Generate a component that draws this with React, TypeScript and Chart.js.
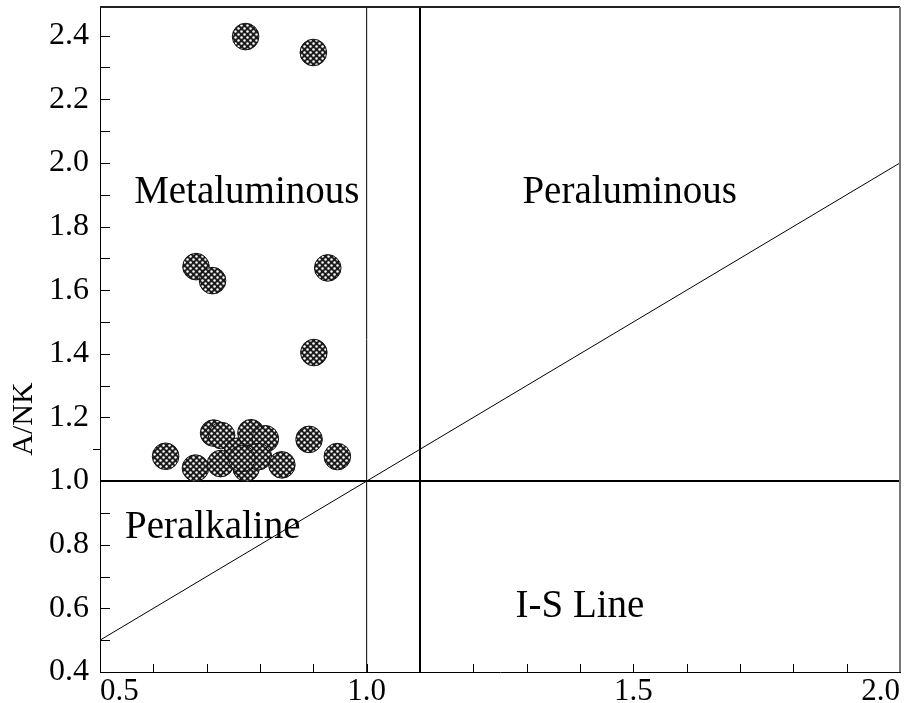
import { useEffect, useRef } from 'react';
import { Chart, registerables } from 'chart.js';

Chart.register(...registerables);

// Sample points (A/CNK, A/NK)
const sampleX = [0.773, 0.900, 0.680, 0.711, 0.927, 0.901, 0.623, 0.679, 0.713, 0.728, 0.726, 0.758, 0.774, 0.783, 0.810, 0.797, 0.841, 0.892, 0.945, 0.766];
const sampleY = [2.397, 2.347, 1.674, 1.630, 1.670, 1.404, 1.078, 1.041, 1.151, 1.143, 1.055, 1.094, 1.041, 1.152, 1.133, 1.077, 1.051, 1.131, 1.077, 1.071];

// Field boundary lines
const diagX = [0.5, 2.0];
const diagY = [0.5, 2.0];
const hLineX = [0.5, 2.0];
const hLineY = [1.0, 1.0];
const v1X = [1.0, 1.0];
const v1Y = [0.4, 2.49];
const v2X = [1.1, 1.1];
const v2Y = [0.4, 2.49];

// Axes
const xMin = 0.5;
const xMax = 2.0;
const yMin = 0.4;
const yMax = 2.49;
const xTickLabels = ['0.5', '1.0', '1.5', '2.0'];
const yTickLabels = ['0.4', '0.6', '0.8', '1.0', '1.2', '1.4', '1.6', '1.8', '2.0', '2.2', '2.4'];
const yTitle = 'A/NK';

// Field names and their anchor positions (data units, left/baseline)
const fieldLabels = ['Metaluminous', 'Peraluminous', 'Peralkaline', 'I-S Line'];
const fieldLabelX = [0.564, 1.292, 0.547, 1.279];
const fieldLabelY = [1.875, 1.875, 0.82, 0.572];

const SERIF = '"Liberation Serif", "Times New Roman", serif';

function toPts(xs: number[], ys: number[]) {
  return xs.map((x, i) => ({ x, y: ys[i] }));
}

function makePattern(): CanvasPattern | string {
  const c = document.createElement('canvas');
  c.width = 6;
  c.height = 6;
  const g = c.getContext('2d');
  if (!g) return '#555';
  g.fillStyle = '#1c1c1c';
  g.fillRect(0, 0, 6, 6);
  g.fillStyle = '#ffffff';
  const dots = [[1.5, 1.5], [4.5, 4.5]];
  dots.forEach(([x, y]) => {
    g.beginPath();
    g.arc(x, y, 1.25, 0, Math.PI * 2);
    g.fill();
  });
  const p = g.createPattern(c, 'repeat');
  return p || '#555';
}

const zeroPad = (s: any) => {
  s.paddingTop = 0;
  s.paddingBottom = 0;
  s.paddingLeft = 0;
  s.paddingRight = 0;
};

const decorPlugin = {
  id: 'decor',
  afterDatasetsDraw(chart: any) {
    const ctx = chart.ctx;
    const xs = chart.scales.x;
    const ys = chart.scales.y;
    ctx.save();
    ctx.fillStyle = '#000';
    ctx.font = `39px ${SERIF}`;
    ctx.textAlign = 'left';
    ctx.textBaseline = 'alphabetic';
    fieldLabels.forEach((t, i) => {
      ctx.fillText(t, xs.getPixelForValue(fieldLabelX[i]), ys.getPixelForValue(fieldLabelY[i]));
    });
    ctx.restore();
  },
  afterDraw(chart: any) {
    const ctx = chart.ctx;
    const xs = chart.scales.x;
    const ys = chart.scales.y;
    const a = chart.chartArea;
    ctx.save();
    // inward tick marks
    ctx.strokeStyle = '#000';
    ctx.lineWidth = 1;
    ctx.beginPath();
    for (let i = 6; i <= 19; i++) {
      const px = Math.round(xs.getPixelForValue(i / 10)) + 0.5;
      ctx.moveTo(px, a.bottom);
      ctx.lineTo(px, a.bottom - 8);
    }
    for (let i = 5; i <= 24; i++) {
      const py = Math.round(ys.getPixelForValue(i / 10)) + 0.5;
      if (i === 11) {
        ctx.moveTo(a.left - 7, py);
        ctx.lineTo(a.left, py);
      } else {
        ctx.moveTo(a.left, py);
        ctx.lineTo(a.left + 10, py);
      }
    }
    ctx.stroke();
    // top and right frame
    ctx.strokeStyle = '#222';
    ctx.lineWidth = 2;
    ctx.beginPath();
    ctx.moveTo(a.left, a.top);
    ctx.lineTo(a.right, a.top);
    ctx.stroke();
    ctx.strokeStyle = '#777';
    ctx.beginPath();
    ctx.moveTo(a.right, a.top);
    ctx.lineTo(a.right, a.bottom);
    ctx.stroke();
    // y axis title
    ctx.fillStyle = '#000';
    ctx.font = `30px ${SERIF}`;
    ctx.textAlign = 'center';
    ctx.textBaseline = 'middle';
    ctx.translate(24, 419);
    ctx.rotate(-Math.PI / 2);
    ctx.fillText(yTitle, 0, 0);
    ctx.restore();
  },
};

export default function App() {
  const ref = useRef<HTMLCanvasElement>(null);
  useEffect(() => {
    if (!ref.current) return;
    const pattern = makePattern();
    const lineDs = (xs: number[], ys: number[], w: number) => ({
      data: toPts(xs, ys),
      showLine: true,
      borderColor: '#000',
      borderWidth: w,
      pointRadius: 0,
      fill: false,
    });
    const chart = new Chart(ref.current, {
      type: 'scatter',
      data: {
        datasets: [
          {
            data: toPts(sampleX, sampleY),
            pointRadius: 13.3,
            pointBackgroundColor: pattern as any,
            pointBorderColor: '#111',
            pointBorderWidth: 1,
            pointHoverRadius: 13.3,
          },
          lineDs(diagX, diagY, 1),
          lineDs(hLineX, hLineY, 2),
          lineDs(v1X, v1Y, 1),
          lineDs(v2X, v2Y, 2),
        ],
      },
      options: {
        animation: false,
        responsive: false,
        maintainAspectRatio: false,
        layout: { autoPadding: false, padding: { left: 0, top: 7, right: 11, bottom: 0 } },
        plugins: { legend: { display: false }, tooltip: { enabled: false } },
        scales: {
          x: {
            type: 'linear',
            min: xMin,
            max: xMax,
            grid: { display: false },
            border: { display: true, color: '#000', width: 1 },
            afterFit: (s: any) => {
              s.height = 31;
              zeroPad(s);
            },
            afterBuildTicks: (s: any) => {
              s.ticks = xTickLabels.map((l) => ({ value: parseFloat(l), label: l }));
            },
            ticks: {
              align: 'inner',
              padding: -7,
              color: '#000',
              font: { family: SERIF, size: 31 },
              maxRotation: 0,
              autoSkip: false,
              callback: (v: any) => Number(v).toFixed(1),
            },
          },
          y: {
            type: 'linear',
            min: yMin,
            max: yMax,
            grid: { display: false },
            border: { display: true, color: '#000', width: 1 },
            afterFit: (s: any) => {
              s.width = 100;
              zeroPad(s);
            },
            afterBuildTicks: (s: any) => {
              s.ticks = yTickLabels.map((l) => ({ value: parseFloat(l), label: l }));
            },
            ticks: {
              padding: 3,
              color: '#000',
              font: { family: SERIF, size: 32 },
              autoSkip: false,
              callback: (v: any) => Number(v).toFixed(1),
            },
          },
        },
      },
      plugins: [decorPlugin],
    });
    return () => chart.destroy();
  }, []);
  return (
    <div style={{ position: 'fixed', left: 0, top: 0, width: 911, height: 703, background: '#fff' }}>
      <canvas ref={ref} width={911} height={703} />
    </div>
  );
}
